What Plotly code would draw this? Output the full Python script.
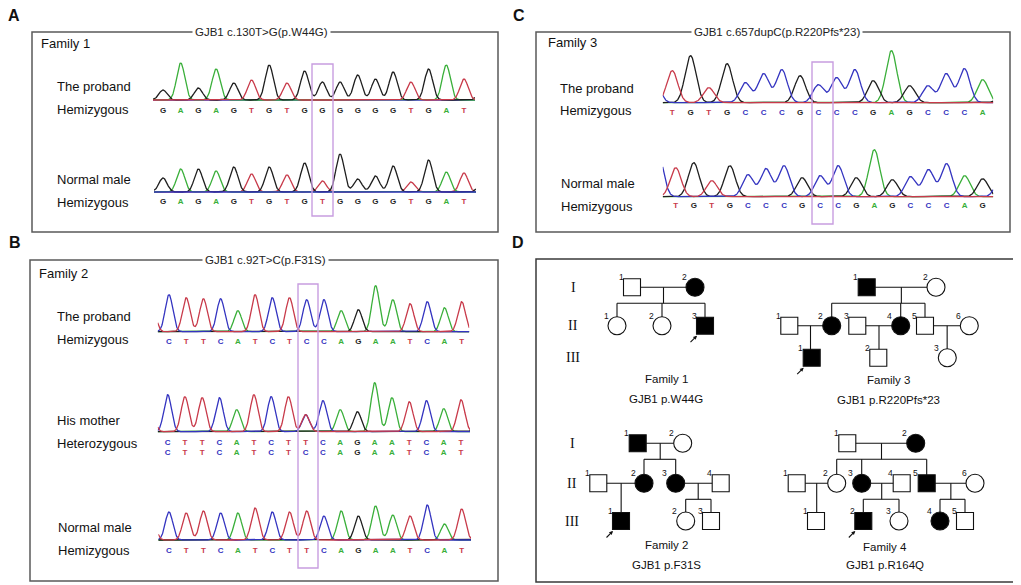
import numpy as np
import plotly.graph_objects as go

W, H = 1021, 585
OFF = 8  # page body margin of the browser, in px

# ---------------- DATA ----------------
# Sanger chromatograms: base calls and peak heights (signal units)
A_PROBAND_BASES = "GAGAGTGTGGGGGGTGAT"
A_PROBAND_HEIGHTS = [10, 37, 12, 31, 17, 20, 35, 17, 29, 18, 18, 25, 21, 28, 18, 31, 35, 21]
A_NORMAL_BASES = "GAGAGTGTGTGGGGTGAT"
A_NORMAL_HEIGHTS = [14, 23, 23, 21, 25, 18, 25, 17, 29, 11, 38, 13, 16, 26, 10, 32, 20, 19]

C_PROBAND_BASES = "TGTGCCCGCCCGAGCCCA"
C_PROBAND_HEIGHTS = [32, 47, 15, 39, 20, 29, 33, 27, 18, 25, 33, 22, 52, 17, 17, 29, 34, 23]
C_NORMAL_BASES = "TGTGCCCGCCGAGCCCAG"
C_NORMAL_HEIGHTS = [29, 34, 16, 31, 22, 28, 31, 19, 21, 31, 19, 47, 17, 20, 27, 33, 21, 18]

B_PROBAND_BASES = "CTTCATCTCCAGAATCAT"
B_PROBAND_HEIGHTS = [37, 34, 33, 33, 21, 37, 34, 34, 32, 32, 21, 22, 46, 32, 28, 30, 24, 30]
B_MOTHER_BASES_1 = "CTTCATCTTCAGAATCAT"
B_MOTHER_BASES_2 = "CTTCATCTCCAGAATCAT"
B_MOTHER_HEIGHTS = [37, 35, 34, 34, 22, 37, 35, 35, 17, 31, 22, 20, 49, 34, 30, 31, 23, 32]
B_NORMAL_BASES = "CTTCATCTTCAGAATCAT"
B_NORMAL_HEIGHTS = [28, 27, 29, 27, 27, 32, 28, 28, 29, 24, 29, 24, 34, 25, 24, 35, 16, 31]

# unlabeled neighbouring peaks just outside the shown window (base, height)
FLANK_LEAD = {"A1": ("A", 6), "A2": ("G", 4), "C1": ("C", 26), "C2": ("C", 46),
              "B1": ("T", 30), "B2": ("T", 28), "B3": ("T", 25)}
FLANK_TAIL = {"A1": ("G", 10), "A2": ("G", 8), "C1": ("G", 4), "C2": ("C", 18),
              "B1": ("G", 3), "B2": ("G", 12), "B3": ("G", 6)}

PANEL_TITLES = {"A": "GJB1 c.130T>G(p.W44G)", "B": "GJB1 c.92T>C(p.F31S)",
                "C": "GJB1 c.657dupC(p.R220Pfs*23)"}
FAMILY_NAMES = {"A": "Family 1", "B": "Family 2", "C": "Family 3"}
ROW_LABELS = {
    "A1": ["The proband", "Hemizygous"], "A2": ["Normal male", "Hemizygous"],
    "C1": ["The proband", "Hemizygous"], "C2": ["Normal male", "Hemizygous"],
    "B1": ["The proband", "Hemizygous"], "B2": ["His mother", "Heterozygous"],
    "B3": ["Normal male", "Hemizygous"],
}

# Pedigrees: (id, number, sex, affected, proband)
PED_F1 = [("I-1", 1, "M", 0, 0), ("I-2", 2, "F", 1, 0),
          ("II-1", 1, "F", 0, 0), ("II-2", 2, "F", 0, 0), ("II-3", 3, "M", 1, 1)]
PED_F1_UNIONS = [("I-1", "I-2", ["II-1", "II-2", "II-3"])]
PED_F3 = [("I-1", 1, "M", 1, 0), ("I-2", 2, "F", 0, 0),
          ("II-1", 1, "M", 0, 0), ("II-2", 2, "F", 1, 0), ("II-3", 3, "M", 0, 0),
          ("II-4", 4, "F", 1, 0), ("II-5", 5, "M", 0, 0), ("II-6", 6, "F", 0, 0),
          ("III-1", 1, "M", 1, 1), ("III-2", 2, "M", 0, 0), ("III-3", 3, "F", 0, 0)]
PED_F3_UNIONS = [("I-1", "I-2", ["II-2", "II-4", "II-5"]), ("II-1", "II-2", ["III-1"]),
                 ("II-3", "II-4", ["III-2"]), ("II-5", "II-6", ["III-3"])]
PED_F2 = [("I-1", 1, "M", 1, 0), ("I-2", 2, "F", 0, 0),
          ("II-1", 1, "M", 0, 0), ("II-2", 2, "F", 1, 0), ("II-3", 3, "F", 1, 0),
          ("II-4", 4, "M", 0, 0),
          ("III-1", 1, "M", 1, 1), ("III-2", 2, "F", 0, 0), ("III-3", 3, "M", 0, 0)]
PED_F2_UNIONS = [("I-1", "I-2", ["II-2", "II-3"]), ("II-1", "II-2", ["III-1"]),
                 ("II-3", "II-4", ["III-2", "III-3"])]
PED_F4 = [("I-1", 1, "M", 0, 0), ("I-2", 2, "F", 1, 0),
          ("II-1", 1, "M", 0, 0), ("II-2", 2, "F", 0, 0), ("II-3", 3, "F", 1, 0),
          ("II-4", 4, "M", 0, 0), ("II-5", 5, "M", 1, 0), ("II-6", 6, "F", 0, 0),
          ("III-1", 1, "M", 0, 0), ("III-2", 2, "M", 1, 1), ("III-3", 3, "F", 0, 0),
          ("III-4", 4, "F", 1, 0), ("III-5", 5, "M", 0, 0)]
PED_F4_UNIONS = [("I-1", "I-2", ["II-2", "II-3", "II-5"]), ("II-1", "II-2", ["III-1"]),
                 ("II-3", "II-4", ["III-2", "III-3"]), ("II-5", "II-6", ["III-4", "III-5"])]
PED_CAPTIONS = {"F1": ["Family 1", "GJB1 p.W44G"], "F3": ["Family 3", "GJB1 p.R220Pfs*23"],
                "F2": ["Family 2", "GJB1 p.F31S"], "F4": ["Family 4", "GJB1 p.R164Q"]}
GEN_LABELS = ["I", "II", "III"]

# ---------------- LAYOUT / STYLE ----------------
COL = {"G": "#1e1e1e", "A": "#3aaf3a", "T": "#c83a4a", "C": "#3434c0"}
FONT = "Arial, Liberation Sans, sans-serif"
SERIF = "Liberation Serif, Times New Roman, serif"
PURPLE = "#c89de0"
BOXC = "#5a5a5a"

CHROMS = {
    "A1": dict(bases=[A_PROBAND_BASES], heights=A_PROBAND_HEIGHTS, letter_x=(163, 464),
               span=(153, 475), base=100, dy=[11], sigma=0.23, order="CAGT"),
    "A2": dict(bases=[A_NORMAL_BASES], heights=A_NORMAL_HEIGHTS, letter_x=(163, 464),
               span=(154, 476), base=192, dy=[10], sigma=0.23, order="TAGC"),
    "C1": dict(bases=[C_PROBAND_BASES], heights=C_PROBAND_HEIGHTS, letter_x=(672.3, 982.7),
               span=(662.7, 993.3), base=102.7, dy=[10], sigma=0.3, order="AGCT"),
    "C2": dict(bases=[C_NORMAL_BASES], heights=C_NORMAL_HEIGHTS, letter_x=(675.7, 982.7),
               span=(662.7, 993.3), base=196.7, dy=[9], sigma=0.3, order="AGCT"),
    "B1": dict(bases=[B_PROBAND_BASES], heights=B_PROBAND_HEIGHTS, letter_x=(169, 461.7),
               span=(157.7, 469.3), base=331.7, dy=[10.6], sigma=0.22, order="AGCT"),
    "B2": dict(bases=[B_MOTHER_BASES_1, B_MOTHER_BASES_2], heights=B_MOTHER_HEIGHTS,
               letter_x=(167.7, 461), span=(157.7, 470), base=431.7, dy=[11.6, 21.6],
               sigma=0.22, order="AGCT"),
    "B3": dict(bases=[B_NORMAL_BASES], heights=B_NORMAL_HEIGHTS, letter_x=(169, 461.7),
               span=(158.3, 471), base=540, dy=[11], sigma=0.22, order="AGCT"),
}
ROW_LABEL_POS = {  # x, y of the two label lines
    "A1": (55, 86, 109), "A2": (55, 179, 202),
    "C1": (558, 88, 110), "C2": (559, 183, 206),
    "B1": (55, 316, 339), "B2": (55, 420, 443), "B3": (56, 527, 550),
}
PANEL_BOX = {"A": (32, 32, 498, 232), "C": (536, 32, 1010, 232),
             "B": (30, 260, 498, 581), "D": (536, 259, 1017, 582)}
TITLE_X = {"A": 261, "C": 777, "B": 265}
FAMILY_POS = {"A": (39, 43), "C": (546, 42), "B": (37, 273)}
LETTER_POS = {"A": (14, 15), "C": (519, 15), "B": (15, 242), "D": (518, 242)}
MUT_BOX = {"A": (312, 64, 333, 216), "C": (812, 62, 833, 224), "B": (298, 284, 318, 568)}

GEN_Y_UP = {"I": 287.3, "II": 325.7, "III": 357.7}
GEN_Y_LO = {"I": 443.3, "II": 483.3, "III": 521}
PEDS = {
    "F1": dict(ind=PED_F1, unions=PED_F1_UNIONS, gy=GEN_Y_UP,
               x={"I-1": 632, "I-2": 695, "II-1": 617, "II-2": 662, "II-3": 705},
               cap=(666, 379, 399)),
    "F3": dict(ind=PED_F3, unions=PED_F3_UNIONS, gy=GEN_Y_UP,
               x={"I-1": 866.7, "I-2": 936, "II-1": 789.3, "II-2": 831.7, "II-3": 857.3,
                  "II-4": 900.7, "II-5": 925, "II-6": 969.3, "III-1": 811.7,
                  "III-2": 878.3, "III-3": 947.3},
               cap=(888, 380, 399.5)),
    "F2": dict(ind=PED_F2, unions=PED_F2_UNIONS, gy=GEN_Y_LO,
               x={"I-1": 637.7, "I-2": 682.7, "II-1": 598.3, "II-2": 644, "II-3": 675.7,
                  "II-4": 720.7, "III-1": 621, "III-2": 685.7, "III-3": 711},
               cap=(666, 545, 565)),
    "F4": dict(ind=PED_F4, unions=PED_F4_UNIONS, gy=GEN_Y_LO,
               x={"I-1": 847.3, "I-2": 915.7, "II-1": 796.7, "II-2": 836.7, "II-3": 861.7,
                  "II-4": 901.7, "II-5": 926.7, "II-6": 975, "III-1": 816, "III-2": 863.3,
                  "III-3": 899, "III-4": 940, "III-5": 965},
               cap=(885, 547, 565)),
}
GEN_LABEL_X = {"up": 573, "lo": 572}
SIB_DROP = 16  # px from parents' line to sibship line
SYM = 17


def fx(px):  # window px -> paper fraction (x)
    return (px - OFF) / W


def fy(py):  # window px -> paper fraction (y)
    return 1 - (py - OFF) / H


fig = go.Figure()
layout_axes = {}
annotations = []
shapes = []

YLOW, YHIGH = 28, 62

# ---------------- chromatograms ----------------
for k, (key, c) in enumerate(CHROMS.items(), start=2):
    seq1 = c["bases"][0]
    n = len(seq1)
    lx0, lx1 = c["letter_x"]
    sp = (lx1 - lx0) / (n - 1)
    xa = (c["span"][0] - lx0) / sp
    xb = (c["span"][1] - lx0) / sp
    xs = np.linspace(xa, xb, 900)
    peaks = [(b, i, h) for i, (b, h) in enumerate(zip(seq1, c["heights"]))]
    for seq in c["bases"][1:]:
        for i, (b, b1) in enumerate(zip(seq, seq1)):
            if b != b1:
                peaks.append((b, i, c["heights"][i]))
    lb, lh = FLANK_LEAD[key]
    tb, th = FLANK_TAIL[key]
    peaks.append((lb, -1, lh))
    peaks.append((tb, n, th))
    s = c["sigma"]
    for base in c["order"]:
        y = np.zeros_like(xs)
        for b, i, h in peaks:
            if b == base:
                y += h * np.exp(-0.5 * ((xs - i) / s) ** 2)
        fig.add_trace(go.Scatter(x=xs, y=y, mode="lines", line=dict(color=COL[base], width=1.3),
                                 xaxis=f"x{k}", yaxis=f"y{k}", hoverinfo="skip", showlegend=False))
    for seq, dy in zip(c["bases"], c["dy"]):
        fig.add_trace(go.Scatter(
            x=list(range(n)), y=[-dy] * n, mode="text", text=list(seq),
            textfont=dict(color=[COL[b] for b in seq], size=8, family=FONT, weight="bold"),
            xaxis=f"x{k}", yaxis=f"y{k}", hoverinfo="skip", showlegend=False, cliponaxis=False))
    base = c["base"]
    layout_axes[f"xaxis{k}"] = dict(domain=[fx(c["span"][0]), fx(c["span"][1])], range=[xa, xb],
                                    visible=False, anchor=f"y{k}", fixedrange=True)
    layout_axes[f"yaxis{k}"] = dict(domain=[fy(base + YLOW), fy(base - YHIGH)],
                                    range=[-YLOW, YHIGH], visible=False, anchor=f"x{k}",
                                    fixedrange=True)
    lxp, ly1, ly2 = ROW_LABEL_POS[key]
    for txt, yy in zip(ROW_LABELS[key], (ly1, ly2)):
        annotations.append(dict(x=lxp, y=yy, xref="x", yref="y", text=txt, showarrow=False,
                                xanchor="left", yanchor="middle",
                                font=dict(size=13, family=FONT, color="#111")))

# ---------------- panel boxes, titles ----------------
for p, (x0, y0, x1, y1) in PANEL_BOX.items():
    shapes.append(dict(type="rect", xref="x", yref="y", x0=x0, y0=y0, x1=x1, y1=y1,
                       line=dict(color=BOXC if p != "D" else "#3a3a3a", width=1.5),
                       fillcolor="rgba(0,0,0,0)", layer="below"))
for p, (lx, ly) in LETTER_POS.items():
    annotations.append(dict(x=lx, y=ly, xref="x", yref="y", text=f"<b>{p}</b>", showarrow=False,
                            font=dict(size=16, family=FONT, color="#111")))
for p, t in PANEL_TITLES.items():
    annotations.append(dict(x=TITLE_X[p], y=PANEL_BOX[p][1], xref="x", yref="y", text=t,
                            showarrow=False, bgcolor="white", borderpad=2,
                            font=dict(size=11.5, family=FONT, color="#222")))
for p, name in FAMILY_NAMES.items():
    fx_, fy_ = FAMILY_POS[p]
    annotations.append(dict(x=fx_, y=fy_, xref="x", yref="y", text=name, showarrow=False,
                            xanchor="left", font=dict(size=13, family=FONT, color="#111")))
for p, (x0, y0, x1, y1) in MUT_BOX.items():
    shapes.append(dict(type="rect", xref="x", yref="y", x0=x0, y0=y0, x1=x1, y1=y1,
                       line=dict(color=PURPLE, width=1.4), fillcolor="rgba(0,0,0,0)"))

# ---------------- pedigrees ----------------
lx, ly = [], []
for fam, P in PEDS.items():
    info = {i[0]: i for i in P["ind"]}
    pos = {iid: (P["x"][iid], P["gy"][iid.split("-")[0]]) for iid in info}
    for a, b, kids in P["unions"]:
        (xa_, ya_), (xb_, yb_) = pos[a], pos[b]
        lx += [xa_, xb_, None]
        ly += [ya_, yb_, None]
        mx = (xa_ + xb_) / 2
        kid_y = pos[kids[0]][1]
        if len(kids) == 1 and abs(pos[kids[0]][0] - mx) < 3:
            lx += [mx, mx, None]
            ly += [ya_, kid_y, None]
        else:
            sy = ya_ + SIB_DROP
            kx = [pos[kk][0] for kk in kids]
            lx += [mx, mx, None, min(kx), max(kx), None]
            ly += [ya_, sy, None, sy, sy, None]
            for xx in kx:
                lx += [xx, xx, None]
                ly += [sy, kid_y, None]
    mx_, my_, msym, mfill, msize = [], [], [], [], []
    for iid, num, sex, aff, prob in P["ind"]:
        x, y = pos[iid]
        mx_.append(x); my_.append(y)
        msym.append("square" if sex == "M" else "circle")
        msize.append(SYM if sex == "M" else SYM + 1)
        mfill.append("#000000" if aff else "#ffffff")
        annotations.append(dict(x=x - 11, y=y - 10, xref="x", yref="y", text=str(num),
                                showarrow=False, font=dict(size=8.5, family=FONT, color="#111")))
        if prob:
            annotations.append(dict(x=x - 8, y=y + 10, xref="x", yref="y", text="",
                                    showarrow=True, ax=-8, ay=8, arrowhead=2, arrowsize=0.7,
                                    arrowwidth=1.1, arrowcolor="#111"))
    P["markers"] = (mx_, my_, msym, mfill, msize)
    cx, cy1, cy2 = P["cap"]
    annotations.append(dict(x=cx, y=cy1, xref="x", yref="y", text=PED_CAPTIONS[fam][0],
                            showarrow=False, font=dict(size=11.5, family=FONT, color="#111")))
    annotations.append(dict(x=cx, y=cy2, xref="x", yref="y", text=PED_CAPTIONS[fam][1],
                            showarrow=False, font=dict(size=11.5, family=FONT, color="#111")))

fig.add_trace(go.Scatter(x=lx, y=ly, mode="lines", line=dict(color="#111", width=1.1),
                         xaxis="x", yaxis="y", hoverinfo="skip", showlegend=False))
for fam, P in PEDS.items():
    mx_, my_, msym, mfill, msize = P["markers"]
    fig.add_trace(go.Scatter(x=mx_, y=my_, mode="markers",
                             marker=dict(symbol=msym, size=msize, color=mfill, opacity=1,
                                         line=dict(color="#111", width=1.1)),
                             opacity=1, xaxis="x", yaxis="y", hoverinfo="skip",
                             showlegend=False))

for gy, key in ((GEN_Y_UP, "up"), (GEN_Y_LO, "lo")):
    for g in GEN_LABELS:
        annotations.append(dict(x=GEN_LABEL_X[key], y=gy[g], xref="x", yref="y", text=g,
                                showarrow=False, font=dict(size=14, family=SERIF, color="#111")))

fig.update_layout(
    width=W, height=H, margin=dict(l=0, r=0, t=0, b=0),
    paper_bgcolor="white", plot_bgcolor="rgba(0,0,0,0)",
    xaxis=dict(range=[OFF, W + OFF], domain=[0, 1], visible=False, fixedrange=True),
    yaxis=dict(range=[H + OFF, OFF], domain=[0, 1], visible=False, fixedrange=True),
    shapes=shapes, annotations=annotations, showlegend=False,
    **layout_axes,
)
fig.write_html("out.html")
